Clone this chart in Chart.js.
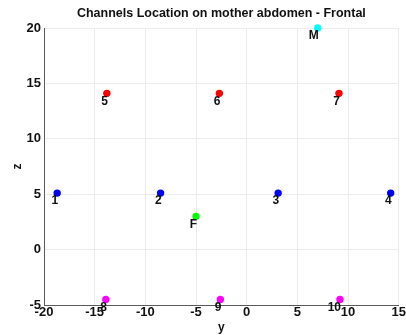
<!DOCTYPE html>
<html>
<head>
<meta charset="utf-8">
<script src="https://cdn.jsdelivr.net/npm/chart.js@4/dist/chart.umd.min.js"></script>
<style>
  body { margin: 0; background: #fff; }
</style>
</head>
<body>
<canvas id="myChart" width="406" height="335"></canvas>
<script>
// channel positions (y = horizontal, z = vertical)
var lowerNames = ['1', '2', '3', '4'];
var lowerY = [-18.7, -8.5, 3.1, 14.2];
var lowerZ = [5.1, 5.1, 5.1, 5.1];

var upperNames = ['5', '6', '7'];
var upperY = [-13.8, -2.7, 9.1];
var upperZ = [14.1, 14.1, 14.1];

var bottomNames = ['8', '9', '10'];
var bottomY = [-13.9, -2.6, 9.2];
var bottomZ = [-4.5, -4.5, -4.5];

var refNames = ['M', 'F'];
var refY = [7.0, -5.0];
var refZ = [20.0, 3.0];
var refColors = ['#00ffff', '#00ff00'];

var yTicks = [-20, -15, -10, -5, 0, 5, 10, 15];
var zTicks = [-5, 0, 5, 10, 15, 20];

var chartTitle = 'Channels Location on mother abdomen - Frontal';

function toPoints(ys, zs) {
    return ys.map(function (v, i) { return { x: v, y: zs[i] }; });
}

function makeSet(names, ys, zs, color) {
    return {
        names: names,
        data: toPoints(ys, zs),
        backgroundColor: color,
        borderWidth: 0,
        pointRadius: 3.7,
        pointHoverRadius: 3.7,
        clip: false
    };
}

var fontFamily = '"Liberation Sans", Arial, sans-serif';

// channel names next to each dot + title centred over the plot area
var channelNames = {
    id: 'channelNames',
    afterDatasetsDraw: function (chart) {
        var ctx = chart.ctx;
        ctx.save();
        ctx.font = 'bold 12px ' + fontFamily;
        ctx.fillStyle = '#111';
        ctx.textAlign = 'right';
        ctx.textBaseline = 'middle';
        chart.data.datasets.forEach(function (ds, i) {
            var meta = chart.getDatasetMeta(i);
            meta.data.forEach(function (pt, j) {
                ctx.fillText(ds.names[j], pt.x + 1, pt.y + 8);
            });
        });
        var area = chart.chartArea;
        ctx.font = 'bold 12.5px ' + fontFamily;
        ctx.textAlign = 'center';
        ctx.fillText(chartTitle, (area.left + area.right) / 2, 14);
        ctx.restore();
    }
};

var tickFont = { family: fontFamily, size: 13, weight: 'bold' };
var gridColor = '#ececec';
var axisColor = '#5a5a5a';

var ctx = document.getElementById('myChart').getContext('2d');
var myChart = new Chart(ctx, {
    type: 'scatter',
    data: {
        datasets: [
            makeSet(lowerNames, lowerY, lowerZ, '#0000ff'),
            makeSet(upperNames, upperY, upperZ, '#ff0000'),
            makeSet(bottomNames, bottomY, bottomZ, '#ff00ff'),
            makeSet(refNames, refY, refZ, refColors)
        ]
    },
    options: {
        responsive: false,
        animation: false,
        layout: { padding: { top: 28, left: 0, right: 0, bottom: 0 } },
        plugins: {
            legend: { display: false },
            tooltip: { enabled: false },
            title: { display: false }
        },
        scales: {
            x: {
                type: 'linear',
                min: -20,
                max: 15,
                afterBuildTicks: function (axis) {
                    axis.ticks = yTicks.map(function (v) { return { value: v }; });
                },
                afterFit: function (axis) { axis.height = 30; },
                ticks: { color: '#111', font: tickFont, padding: 0, maxRotation: 0 },
                grid: { color: gridColor, drawTicks: false },
                border: { color: axisColor },
                title: {
                    display: true,
                    text: 'y',
                    color: '#111',
                    font: { family: fontFamily, size: 12, weight: 'bold' },
                    padding: { top: 0, bottom: 0 }
                }
            },
            y: {
                type: 'linear',
                min: -5,
                max: 20,
                afterBuildTicks: function (axis) {
                    axis.ticks = zTicks.map(function (v) { return { value: v }; });
                },
                afterFit: function (axis) { axis.width = 44; },
                ticks: { color: '#111', font: tickFont, padding: 3 },
                grid: { color: gridColor, drawTicks: false },
                border: { color: axisColor },
                title: {
                    display: true,
                    text: 'z',
                    color: '#111',
                    font: { family: fontFamily, size: 12, weight: 'bold' },
                    padding: { top: 10, bottom: 0 }
                }
            }
        }
    },
    plugins: [channelNames]
});
</script>
</body>
</html>
